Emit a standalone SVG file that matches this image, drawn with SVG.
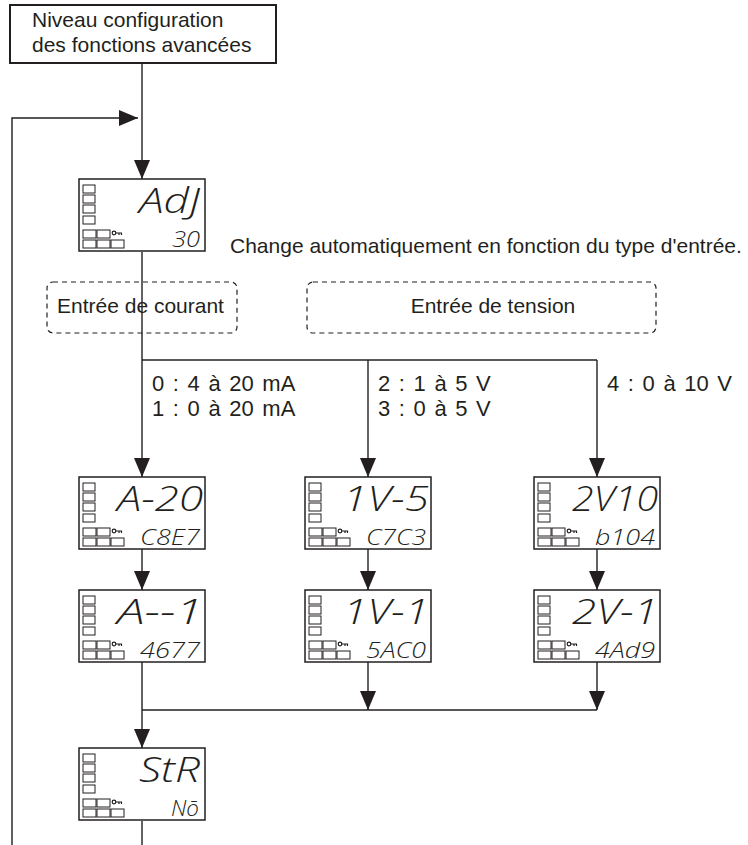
<svg xmlns="http://www.w3.org/2000/svg" xmlns:xlink="http://www.w3.org/1999/xlink" width="748" height="845" viewBox="0 0 748 845">
<style>
.ln{fill:none;stroke:#231f20;stroke-width:1.4}
.lbl{font-family:"Liberation Sans",Arial,sans-serif;font-size:21px;fill:#231f20}
.sp{font-size:22px;word-spacing:2.5px}
.dash{fill:none;stroke:#231f20;stroke-width:1.2;stroke-dasharray:5,4}
.frame{fill:#fff;stroke:#231f20;stroke-width:1.5}
.sq{fill:#fff;stroke:#231f20;stroke-width:1}
.seg{font-family:"Open Sans","DejaVu Sans",sans-serif;font-style:italic;font-weight:300;fill:#231f20}
.big{font-size:35px}
.small{font-size:22px}
</style>
<defs>
<marker id="ah" viewBox="0 0 19 16" refX="19" refY="8" markerWidth="19" markerHeight="16" markerUnits="userSpaceOnUse" orient="auto">
<path d="M0,0 L19,8 L0,16 z" fill="#231f20"/>
</marker>
<g id="ind">
<rect class="frame" x="0" y="0" width="126" height="72"/>
<rect class="sq" x="4" y="6" width="12" height="8"/>
<rect class="sq" x="4" y="16" width="12" height="8"/>
<rect class="sq" x="4" y="26" width="12" height="8"/>
<rect class="sq" x="4" y="37" width="12" height="8"/>
<rect class="sq" x="4" y="51" width="13" height="8"/>
<rect class="sq" x="18" y="51" width="13" height="8"/>
<rect class="sq" x="4" y="61" width="13" height="8"/>
<rect class="sq" x="18" y="61" width="13" height="8"/>
<rect class="sq" x="32" y="61" width="13" height="8"/>
<circle cx="35" cy="54" r="1.8" fill="none" stroke="#231f20" stroke-width="1.2"/>
<path d="M36.8,54 H43 M40,54 V56 M42.5,54 V56" fill="none" stroke="#231f20" stroke-width="1.2"/>
</g>
</defs>
<rect width="748" height="845" fill="#fff"/>

<g id="top-box">
<rect x="10" y="5" width="266" height="58" fill="#fff" stroke="#231f20" stroke-width="2"/>
<text class="lbl" x="32" y="27">Niveau configuration</text>
<text class="lbl" x="32" y="52">des fonctions avancées</text>
</g>

<g id="connectors">
<path class="ln" d="M142,63 V179" marker-end="url(#ah)"/>
<path class="ln" d="M12,845 V118 H138" marker-end="url(#ah)"/>
<path class="ln" d="M142,252 V477" marker-end="url(#ah)"/>
<path class="ln" d="M142,360 H597"/>
<path class="ln" d="M368,360 V477" marker-end="url(#ah)"/>
<path class="ln" d="M597,360 V477" marker-end="url(#ah)"/>
<path class="ln" d="M142,549 V590" marker-end="url(#ah)"/>
<path class="ln" d="M368,549 V590" marker-end="url(#ah)"/>
<path class="ln" d="M597,549 V590" marker-end="url(#ah)"/>
<path class="ln" d="M142,662 V748" marker-end="url(#ah)"/>
<path class="ln" d="M368,662 V710" marker-end="url(#ah)"/>
<path class="ln" d="M597,662 V710" marker-end="url(#ah)"/>
<path class="ln" d="M142,710 H597"/>
<path class="ln" d="M142,821 V845"/>
</g>

<g id="note">
<text class="lbl" x="230" y="253">Change automatiquement en fonction du type d'entrée.</text>
</g>

<g id="group-courant">
<rect class="dash" x="47" y="282" width="190" height="51" rx="6"/>
<text class="lbl" x="57" y="313">Entrée de courant</text>
</g>
<g id="group-tension">
<rect class="dash" x="307" y="282" width="349" height="51" rx="6"/>
<text class="lbl" x="493" y="313" text-anchor="middle">Entrée de tension</text>
</g>

<g id="labels">
<text class="lbl sp" x="152" y="391">0 : 4 à 20 mA</text>
<text class="lbl sp" x="152" y="416">1 : 0 à 20 mA</text>
<text class="lbl sp" x="378" y="391">2 : 1 à 5 V</text>
<text class="lbl sp" x="378" y="416">3 : 0 à 5 V</text>
<text class="lbl sp" x="607" y="391">4 : 0 à 10 V</text>
</g>

<g id="disp-adj" transform="translate(79,179)">
<use xlink:href="#ind"/>
<text class="seg big" x="60" y="34" textLength="61" lengthAdjust="spacingAndGlyphs">AdJ</text>
<text class="seg small" x="93" y="68" textLength="28" lengthAdjust="spacingAndGlyphs">30</text>
</g>

<g id="disp-a20" transform="translate(79,477)">
<use xlink:href="#ind"/>
<text class="seg big" x="38" y="34" textLength="86" lengthAdjust="spacingAndGlyphs">A-20</text>
<text class="seg small" x="61" y="68" textLength="60" lengthAdjust="spacingAndGlyphs">C8E7</text>
</g>
<g id="disp-1v5" transform="translate(305,477)">
<use xlink:href="#ind"/>
<text class="seg big" x="38" y="34" textLength="86" lengthAdjust="spacingAndGlyphs">1V-5</text>
<text class="seg small" x="61" y="68" textLength="60" lengthAdjust="spacingAndGlyphs">C7C3</text>
</g>
<g id="disp-2v10" transform="translate(534,477)">
<use xlink:href="#ind"/>
<text class="seg big" x="38" y="34" textLength="86" lengthAdjust="spacingAndGlyphs">2V10</text>
<text class="seg small" x="61" y="68" textLength="60" lengthAdjust="spacingAndGlyphs">b104</text>
</g>

<g id="disp-a1" transform="translate(79,590)">
<use xlink:href="#ind"/>
<text class="seg big" x="38" y="34" textLength="86" lengthAdjust="spacingAndGlyphs">A--1</text>
<text class="seg small" x="61" y="68" textLength="60" lengthAdjust="spacingAndGlyphs">4677</text>
</g>
<g id="disp-1v1" transform="translate(305,590)">
<use xlink:href="#ind"/>
<text class="seg big" x="38" y="34" textLength="86" lengthAdjust="spacingAndGlyphs">1V-1</text>
<text class="seg small" x="61" y="68" textLength="60" lengthAdjust="spacingAndGlyphs">5AC0</text>
</g>
<g id="disp-2v1" transform="translate(534,590)">
<use xlink:href="#ind"/>
<text class="seg big" x="38" y="34" textLength="86" lengthAdjust="spacingAndGlyphs">2V-1</text>
<text class="seg small" x="61" y="68" textLength="60" lengthAdjust="spacingAndGlyphs">4Ad9</text>
</g>

<g id="disp-str" transform="translate(79,748)">
<use xlink:href="#ind"/>
<text class="seg big" x="60" y="34" textLength="61" lengthAdjust="spacingAndGlyphs">StR</text>
<text class="seg small" x="92" y="68" textLength="28" lengthAdjust="spacingAndGlyphs">Nō</text>
</g>
</svg>
